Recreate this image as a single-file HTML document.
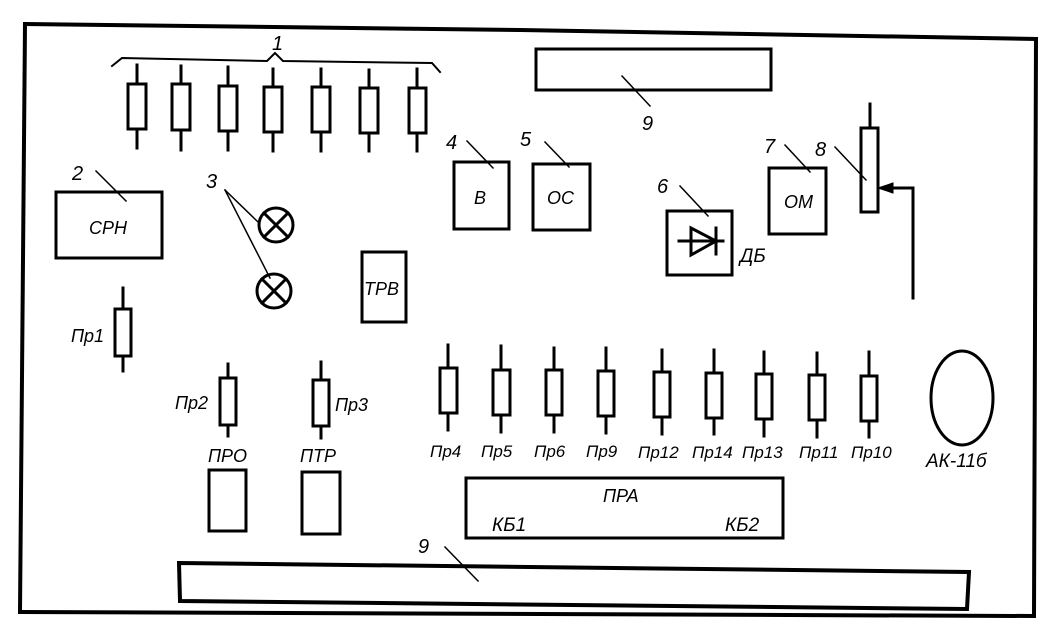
<!DOCTYPE html>
<html><head><meta charset="utf-8"><style>
html,body{margin:0;padding:0;background:#fff;}
svg{display:block;}
text{font-family:"Liberation Sans","DejaVu Sans",sans-serif;font-style:italic;fill:#000;}
</style></head><body>
<svg width="1042" height="627" viewBox="0 0 1042 627" xmlns="http://www.w3.org/2000/svg">
<g fill="none" stroke="#000" stroke-linecap="square">
<polyline points="25,24 520,30 1036,39" stroke-width="4"/>
<line x1="25" y1="24" x2="20" y2="612" stroke-width="4"/>
<line x1="20" y1="612" x2="1032" y2="616" stroke-width="4"/>
<line x1="1036" y1="39" x2="1034" y2="616" stroke-width="4"/>

<polyline points="112,66 122,58 267,61 275,53 283,61 432,63 440,72" stroke-width="2"/>
<g stroke-width="3">
<line x1="137" y1="65" x2="137" y2="148"/><rect x="128" y="84" width="18" height="45" fill="#fff"/>
<line x1="181" y1="66" x2="181" y2="150"/><rect x="172" y="84" width="18" height="46" fill="#fff"/>
<line x1="228" y1="67" x2="228" y2="150"/><rect x="219" y="86" width="18" height="45" fill="#fff"/>
<line x1="273" y1="69" x2="273" y2="151"/><rect x="264" y="87" width="18" height="45" fill="#fff"/>
<line x1="321" y1="69" x2="321" y2="151"/><rect x="312" y="87" width="18" height="45" fill="#fff"/>
<line x1="369" y1="70" x2="369" y2="151"/><rect x="360" y="88" width="18" height="45" fill="#fff"/>
<line x1="417" y1="69" x2="417" y2="151"/><rect x="409" y="88" width="17" height="45" fill="#fff"/>
</g>

<line x1="96" y1="171" x2="126" y2="201" stroke-width="1.5"/>
<rect x="56" y="192" width="106" height="66" stroke-width="3"/>
<line x1="225" y1="190" x2="258" y2="222" stroke-width="1.5"/>
<line x1="225" y1="190" x2="270" y2="278" stroke-width="1.5"/>
<circle cx="276" cy="225" r="17" stroke-width="3"/>
<line x1="264" y1="213" x2="288" y2="237" stroke-width="3"/><line x1="288" y1="213" x2="264" y2="237" stroke-width="3"/>
<circle cx="274" cy="291" r="17" stroke-width="3"/>
<line x1="262" y1="279" x2="286" y2="303" stroke-width="3"/><line x1="286" y1="279" x2="262" y2="303" stroke-width="3"/>
<rect x="362" y="252" width="44" height="70" stroke-width="3"/>
<line x1="467" y1="141" x2="493" y2="168" stroke-width="1.5"/>
<rect x="454" y="162" width="55" height="67" stroke-width="3"/>
<line x1="545" y1="142" x2="569" y2="167" stroke-width="1.5"/>
<rect x="533" y="164" width="57" height="66" stroke-width="3"/>
<rect x="536" y="49" width="235" height="41" stroke-width="3"/>
<line x1="622" y1="76" x2="650" y2="106" stroke-width="1.5"/>
<line x1="680" y1="186" x2="708" y2="216" stroke-width="1.5"/>
<rect x="667" y="211" width="65" height="64" stroke-width="3"/>
<line x1="679" y1="241" x2="723" y2="241" stroke-width="3"/>
<polygon points="691,228 691,255 716,241" stroke-width="3"/>
<line x1="716" y1="228" x2="716" y2="254" stroke-width="3"/>
<line x1="785" y1="145" x2="810" y2="172" stroke-width="1.5"/>
<rect x="769" y="168" width="57" height="66" stroke-width="3"/>
<line x1="835" y1="147" x2="866" y2="180" stroke-width="1.5"/>
<line x1="870" y1="104" x2="870" y2="128" stroke-width="3"/>
<rect x="861" y="128" width="17" height="84" stroke-width="3"/>
<polyline points="913,298 913,188 888,188" stroke-width="3"/>
<polygon points="878,188 893,183 893,193" fill="#000" stroke-width="1"/>

<g stroke-width="3">
<line x1="123" y1="288" x2="123" y2="371"/><rect x="115" y="309" width="16" height="47" fill="#fff"/>
<line x1="228" y1="364" x2="228" y2="436"/><rect x="220" y="378" width="16" height="47" fill="#fff"/>
<line x1="321" y1="362" x2="321" y2="438"/><rect x="313" y="380" width="16" height="46" fill="#fff"/>
</g>
<rect x="209" y="470" width="37" height="61" stroke-width="3"/>
<rect x="302" y="472" width="38" height="62" stroke-width="3"/>

<g stroke-width="3">
<line x1="448" y1="345" x2="448" y2="430"/><rect x="440" y="368" width="17" height="45" fill="#fff"/>
<line x1="501" y1="346" x2="501" y2="432"/><rect x="493" y="370" width="17" height="45" fill="#fff"/>
<line x1="554" y1="348" x2="554" y2="432"/><rect x="546" y="370" width="16" height="45" fill="#fff"/>
<line x1="606" y1="348" x2="606" y2="433"/><rect x="598" y="371" width="16" height="45" fill="#fff"/>
<line x1="662" y1="350" x2="662" y2="434"/><rect x="654" y="372" width="16" height="45" fill="#fff"/>
<line x1="714" y1="350" x2="714" y2="434"/><rect x="706" y="373" width="16" height="45" fill="#fff"/>
<line x1="764" y1="352" x2="764" y2="436"/><rect x="756" y="374" width="16" height="45" fill="#fff"/>
<line x1="817" y1="353" x2="817" y2="437"/><rect x="809" y="375" width="16" height="45" fill="#fff"/>
<line x1="869" y1="352" x2="869" y2="437"/><rect x="861" y="376" width="16" height="45" fill="#fff"/>
</g>
<ellipse cx="962" cy="398" rx="31" ry="47" stroke-width="3"/>

<rect x="466" y="478" width="317" height="60" stroke-width="3"/>
<polygon points="179,563 969,572 967,609 180,601" stroke-width="4"/>
<line x1="445" y1="547" x2="478" y2="581" stroke-width="1.5"/>
</g>

<g>
<text x="272" y="50" font-size="20">1</text>
<text x="72" y="180" font-size="20">2</text>
<text x="206" y="188" font-size="20">3</text>
<text x="446" y="149" font-size="20">4</text>
<text x="520" y="146" font-size="20">5</text>
<text x="657" y="193" font-size="20">6</text>
<text x="764" y="153" font-size="20">7</text>
<text x="815" y="156" font-size="20">8</text>
<text x="642" y="130" font-size="20">9</text>
<text x="418" y="553" font-size="20">9</text>
<text x="89" y="234" font-size="18">СРН</text>
<text x="364" y="295" font-size="18">ТРВ</text>
<text x="474" y="204" font-size="18">В</text>
<text x="547" y="204" font-size="18">ОС</text>
<text x="784" y="208" font-size="18">ОМ</text>
<text x="740" y="262" font-size="19">ДБ</text>
<text x="71" y="342" font-size="18">Пр1</text>
<text x="175" y="409" font-size="18">Пр2</text>
<text x="335" y="411" font-size="18">Пр3</text>
<text x="208" y="462" font-size="18">ПРО</text>
<text x="300" y="462" font-size="18">ПТР</text>
<g font-size="17">
<text x="430" y="457">Пр4</text>
<text x="481" y="457">Пр5</text>
<text x="534" y="457">Пр6</text>
<text x="586" y="457">Пр9</text>
<text x="638" y="458">Пр12</text>
<text x="692" y="458">Пр14</text>
<text x="742" y="458">Пр13</text>
<text x="799" y="458">Пр11</text>
<text x="851" y="458">Пр10</text>
</g>
<text x="926" y="467" font-size="19">АК-11б</text>
<text x="603" y="502" font-size="18">ПРА</text>
<text x="492" y="531" font-size="19">КБ1</text>
<text x="725" y="531" font-size="19">КБ2</text>
</g>
</svg>
</body></html>
